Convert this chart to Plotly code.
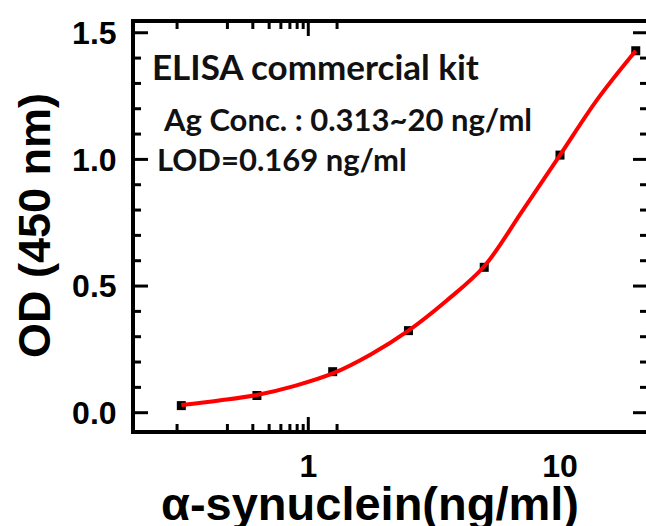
import math
import plotly.graph_objects as go

# measured standard points
conc = [0.313, 0.625, 1.25, 2.5, 5, 10, 20]
od = [0.028, 0.068, 0.162, 0.324, 0.574, 1.017, 1.429]

# fitted curve
fit_conc = [0.313, 0.442, 0.625, 0.884, 1.25, 1.77, 2.5, 3.54, 5.0, 7.07, 10.0, 14.1, 20.0]
fit_od = [0.030, 0.048, 0.070, 0.106, 0.155, 0.230, 0.324, 0.442, 0.578, 0.795, 1.017, 1.238, 1.429]

x_major = [1, 10]
x_major_text = ["1", "10"]
x_minor = [0.3, 0.4, 0.5, 0.6, 0.7, 0.8, 0.9, 2, 3, 4, 5, 6, 7, 8, 9, 20]
y_major = [0.0, 0.5, 1.0, 1.5]
y_major_text = ["0.0", "0.5", "1.0", "1.5"]
y_minor = [0.1, 0.2, 0.3, 0.4, 0.6, 0.7, 0.8, 0.9, 1.1, 1.2, 1.3, 1.4]

notes = ["ELISA commercial kit", "Ag Conc. : 0.313~20 ng/ml", "LOD=0.169 ng/ml"]

W, H = 646, 526
L, R, T, B = 135, 0, 23, 96
pw, ph = W - L - R, H - T - B
XR = [-0.6885, 1.3417]
YR = [-0.0683, 1.5385]
MAJ, MIN = 13, 6  # tick lengths, px

def px(xp):
    return (xp - L) / pw

def py(yp):
    return (H - B - yp) / ph

fig = go.Figure()
fig.add_trace(go.Scatter(x=conc, y=od, mode="markers",
                         marker=dict(symbol="square", size=9, color="black"),
                         showlegend=False, hoverinfo="skip"))
fig.add_trace(go.Scatter(x=fit_conc, y=fit_od, mode="lines",
                         line=dict(color="#ff0000", width=4, shape="spline", smoothing=1.0),
                         showlegend=False, hoverinfo="skip"))

tickfont = dict(family="Liberation Sans, Arial, sans-serif", size=32, color="black", weight="bold")
clear = "rgba(0,0,0,0)"

fig.update_layout(
    xaxis=dict(type="log", range=XR, showline=True, linewidth=4, linecolor="black", mirror=True,
               ticks="outside", ticklen=5, tickcolor=clear, tickmode="array",
               tickvals=x_major, ticktext=x_major_text, tickfont=tickfont,
               showgrid=False, zeroline=False),
    yaxis=dict(range=YR, showline=True, linewidth=4, linecolor="black", mirror=False,
               ticks="outside", ticklen=8, tickcolor=clear, tickmode="array",
               tickvals=y_major, ticktext=y_major_text, tickfont=tickfont,
               showgrid=False, zeroline=False),
)

# inward tick marks on all four sides, placed through the axes' own scales
tick_line = dict(color="black", width=3)
for vals, ln in ((x_major, MAJ), (x_minor, MIN)):
    f = ln / ph
    for v in vals:
        lv = math.log10(v)
        fig.add_shape(type="line", xref="x", yref="paper", x0=lv, x1=lv, y0=0, y1=f,
                      line=tick_line, layer="above")
        fig.add_shape(type="line", xref="x", yref="paper", x0=lv, x1=lv, y0=1, y1=1 - f,
                      line=tick_line, layer="above")
for vals, ln in ((y_major, MAJ), (y_minor, MIN)):
    f = ln / pw
    for v in vals:
        fig.add_shape(type="line", xref="paper", yref="y", x0=0, x1=f, y0=v, y1=v,
                      line=tick_line, layer="above")
        fig.add_shape(type="line", xref="paper", yref="y", x0=1, x1=1 - f, y0=v, y1=v,
                      line=tick_line, layer="above")

note_sizes = [35, 31, 31]
note_pos = [(150, 66), (161, 119), (155, 159)]
for txt, sz, (xp, yp) in zip(notes, note_sizes, note_pos):
    fig.add_annotation(text=txt, xref="paper", yref="paper", x=px(xp), y=py(yp),
                       xanchor="left", yanchor="middle", showarrow=False,
                       font=dict(family="Lato, sans-serif", size=sz, color="#111111", weight="bold"))

fig.add_annotation(text="α-synuclein(ng/ml)", xref="paper", yref="paper",
                   x=px(370), y=py(503), xanchor="center", yanchor="middle",
                   showarrow=False,
                   font=dict(family="Liberation Sans, Arial, sans-serif", size=47, color="black", weight="bold"))
fig.add_annotation(text="OD (450 nm)", xref="paper", yref="paper",
                   x=px(35), y=py(226), xanchor="center", yanchor="middle",
                   textangle=-90, showarrow=False,
                   font=dict(family="Liberation Sans, Arial, sans-serif", size=45, color="black", weight="bold"))

fig.update_layout(width=W, height=H, margin=dict(l=L, r=R, t=T, b=B),
                  paper_bgcolor="white", plot_bgcolor="white")

fig.write_html("out.html")
